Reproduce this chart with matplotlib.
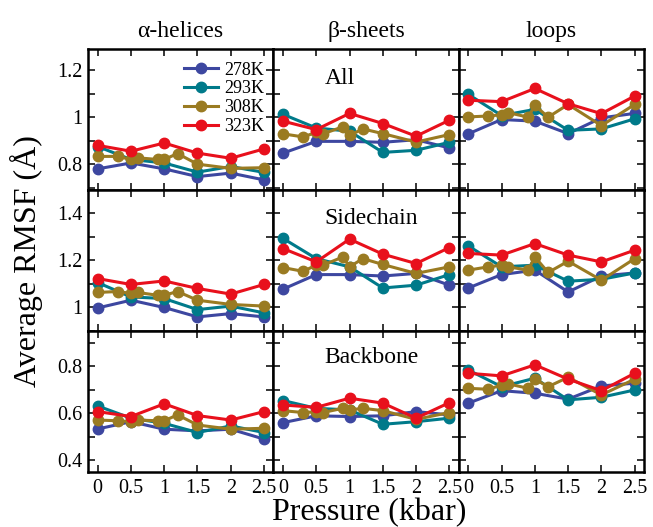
import numpy as np
import matplotlib
matplotlib.use("Agg")
import matplotlib.pyplot as plt
from matplotlib.ticker import MultipleLocator, FormatStrFormatter

plt.rcParams["font.family"] = ["Liberation Serif", "DejaVu Serif"]

# pressure points (kbar)
p_std = [0, 0.5, 1, 1.5, 2, 2.5]
p_308 = [0, 0.3, 0.5, 0.6, 0.9, 1.0, 1.2, 1.5, 2.0, 2.5]

temps = ["278K", "293K", "308K", "323K"]
colors = ["#3d47a0", "#007a8a", "#9a7b22", "#e8101c"]

col_titles = ["α-helices", "β-sheets", "loops"]
row_labels = ["All", "Sidechain", "Backbone"]
row_ylims = [(0.69, 1.29), (0.9, 1.5), (0.35, 0.95)]

# ---- All ----
helix_all_278 = [0.78, 0.805, 0.78, 0.747, 0.762, 0.733]
helix_all_293 = [0.875, 0.82, 0.805, 0.766, 0.79, 0.765]
helix_all_308 = [0.833, 0.833, 0.82, 0.827, 0.82, 0.82, 0.845, 0.80, 0.782, 0.785]
helix_all_323 = [0.88, 0.855, 0.89, 0.847, 0.825, 0.865]

sheet_all_278 = [0.847, 0.897, 0.897, 0.893, 0.904, 0.869]
sheet_all_293 = [1.012, 0.954, 0.94, 0.85, 0.859, 0.893]
sheet_all_308 = [0.929, 0.916, 0.935, 0.929, 0.959, 0.922, 0.95, 0.93, 0.894, 0.926]
sheet_all_323 = [0.983, 0.947, 1.016, 0.973, 0.919, 0.987]

loop_all_278 = [0.929, 0.99, 0.983, 0.93, 0.997, 1.016]
loop_all_293 = [1.097, 1.007, 1.033, 0.944, 0.95, 0.993]
loop_all_308 = [1.001, 1.005, 1.01, 1.019, 1.0, 1.05, 1.0, 1.054, 0.964, 1.054]
loop_all_323 = [1.072, 1.066, 1.122, 1.057, 1.015, 1.09]

# ---- Sidechain ----
helix_sc_278 = [0.998, 1.031, 1.0, 0.96, 0.974, 0.96]
helix_sc_293 = [1.106, 1.045, 1.038, 0.991, 1.006, 0.977]
helix_sc_308 = [1.064, 1.068, 1.06, 1.064, 1.052, 1.052, 1.068, 1.031, 1.013, 1.006]
helix_sc_323 = [1.123, 1.098, 1.113, 1.081, 1.057, 1.098]

sheet_sc_278 = [1.078, 1.14, 1.14, 1.134, 1.145, 1.095]
sheet_sc_293 = [1.294, 1.208, 1.173, 1.083, 1.095, 1.14]
sheet_sc_308 = [1.17, 1.154, 1.18, 1.18, 1.215, 1.173, 1.208, 1.183, 1.145, 1.173]
sheet_sc_323 = [1.251, 1.194, 1.291, 1.227, 1.187, 1.255]

loop_sc_278 = [1.083, 1.14, 1.159, 1.066, 1.134, 1.147]
loop_sc_293 = [1.262, 1.173, 1.18, 1.112, 1.12, 1.147]
loop_sc_308 = [1.159, 1.173, 1.18, 1.173, 1.159, 1.215, 1.149, 1.197, 1.116, 1.208]
loop_sc_323 = [1.23, 1.223, 1.272, 1.223, 1.194, 1.244]

# ---- Backbone ----
helix_bb_278 = [0.533, 0.564, 0.532, 0.525, 0.532, 0.49]
helix_bb_293 = [0.631, 0.579, 0.557, 0.518, 0.546, 0.518]
helix_bb_308 = [0.571, 0.568, 0.564, 0.571, 0.568, 0.568, 0.593, 0.55, 0.532, 0.536]
helix_bb_323 = [0.607, 0.586, 0.64, 0.59, 0.571, 0.607]

sheet_bb_278 = [0.56, 0.589, 0.586, 0.589, 0.607, 0.593]
sheet_bb_293 = [0.654, 0.621, 0.614, 0.553, 0.564, 0.579]
sheet_bb_308 = [0.611, 0.603, 0.606, 0.603, 0.621, 0.614, 0.621, 0.611, 0.574, 0.603]
sheet_bb_323 = [0.635, 0.625, 0.664, 0.643, 0.579, 0.645]

loop_bb_278 = [0.643, 0.696, 0.685, 0.66, 0.716, 0.728]
loop_bb_293 = [0.784, 0.713, 0.749, 0.657, 0.668, 0.699]
loop_bb_308 = [0.706, 0.702, 0.72, 0.725, 0.706, 0.745, 0.713, 0.753, 0.678, 0.745]
loop_bb_323 = [0.77, 0.759, 0.806, 0.745, 0.696, 0.77]

panels = [
    [
        [helix_all_278, helix_all_293, helix_all_308, helix_all_323],
        [sheet_all_278, sheet_all_293, sheet_all_308, sheet_all_323],
        [loop_all_278, loop_all_293, loop_all_308, loop_all_323],
    ],
    [
        [helix_sc_278, helix_sc_293, helix_sc_308, helix_sc_323],
        [sheet_sc_278, sheet_sc_293, sheet_sc_308, sheet_sc_323],
        [loop_sc_278, loop_sc_293, loop_sc_308, loop_sc_323],
    ],
    [
        [helix_bb_278, helix_bb_293, helix_bb_308, helix_bb_323],
        [sheet_bb_278, sheet_bb_293, sheet_bb_308, sheet_bb_323],
        [loop_bb_278, loop_bb_293, loop_bb_308, loop_bb_323],
    ],
]

fig = plt.figure(figsize=(6.53, 5.27), dpi=100)
gs = fig.add_gridspec(3, 3, left=0.1348, right=0.9862, top=0.907, bottom=0.1044,
                      wspace=0, hspace=0)

for r in range(3):
    for c in range(3):
        ax = fig.add_subplot(gs[r, c])
        for k, series in enumerate(panels[r][c]):
            xs = p_308 if k == 2 else p_std
            ax.plot(xs, series, "-o", color=colors[k], lw=2.2, ms=7.5,
                    label=temps[k])

        ax.set_xlim(-0.145, 2.64)
        ax.set_ylim(*row_ylims[r])
        ax.xaxis.set_major_locator(MultipleLocator(0.5))
        ax.xaxis.set_major_formatter(FormatStrFormatter("%g"))
        ax.yaxis.set_major_locator(MultipleLocator(0.2))
        ax.yaxis.set_minor_locator(MultipleLocator(0.1))
        ax.yaxis.set_major_formatter(FormatStrFormatter("%g"))
        ax.tick_params(which="both", direction="in", top=True, right=True,
                       length=5, width=1.1, labelsize=14.5)
        ax.tick_params(axis="x", pad=5)
        ax.tick_params(axis="y", pad=4)
        for s in ax.spines.values():
            s.set_linewidth(1.8)

        if r < 2:
            ax.set_xticklabels([])
        if c > 0:
            ax.set_yticklabels([])
        if r == 0:
            ax.set_title(col_titles[c], fontsize=17, pad=9)
        if c == 1:
            ax.text(0.275, [0.79, 0.80, 0.81][r], row_labels[r],
                    transform=ax.transAxes, fontsize=17, ha="left", va="center")
        if r == 0 and c == 0:
            ax.legend(loc="upper right", bbox_to_anchor=(1.02, 1.0), frameon=False,
                      fontsize=13, handlelength=1.9, handletextpad=0.35,
                      labelspacing=0.1, borderaxespad=0.3)

fig.text(26 / 653, 0.505, "Average RMSF (Å)", rotation=90, fontsize=23,
         ha="center", va="center")
fig.text(0.565, 0.028, "Pressure (kbar)", fontsize=23, ha="center", va="center")

fig.savefig("out.png", dpi=100)
